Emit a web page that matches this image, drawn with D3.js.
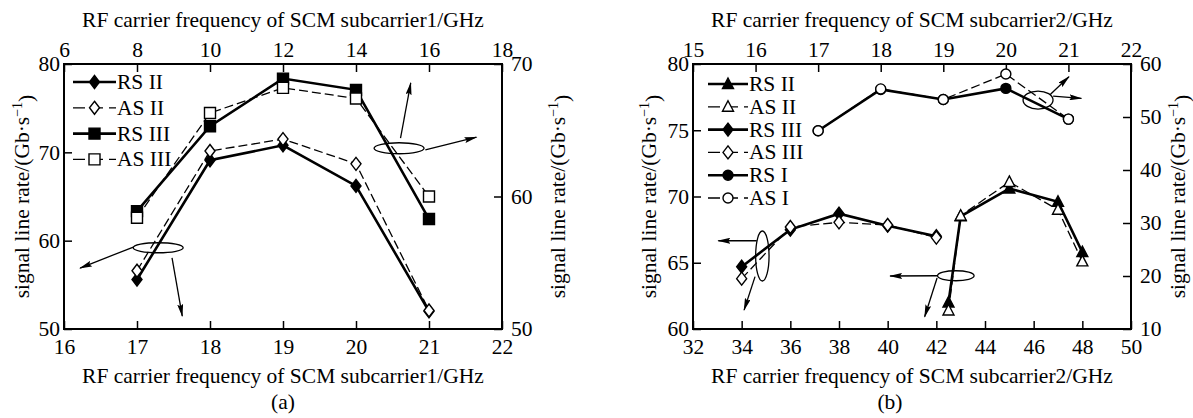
<!DOCTYPE html>
<html>
<head>
<meta charset="utf-8">
<script src="https://cdn.jsdelivr.net/npm/d3@7"></script>
<style>
	body { margin: 0; background: #fff; }
	svg { display: block; }
</style>
</head>
<body>
<div id="chart"></div>
<script>
// ---- data ----
// panel (a)
const aX1 = [17, 18, 19, 20, 21]        // bottom axis, subcarrier1 RF (GHz)
const aX2 = [8, 10, 12, 14, 16]         // top axis, SCM subcarrier1 (GHz)
const aRS2 = [55.6, 69.1, 70.8, 66.2, 52.0]
const aAS2 = [56.6, 70.15, 71.5, 68.7, 52.1]
const aRS3 = [58.9, 65.3, 68.9, 68.05, 58.3]
const aAS3 = [58.4, 66.3, 68.2, 67.4, 60.0]

// panel (b)
const bX3 = [34, 36, 38, 40, 42]
const bX2 = [42.5, 43, 45, 47, 48]
const bX1 = [17, 18, 19, 20, 21]        // top axis
const bRS2 = [62.0, 68.5, 70.6, 69.6, 65.8]
const bAS2 = [61.4, 68.55, 71.1, 69.0, 65.1]
const bRS3 = [64.7, 67.5, 68.7, 67.8, 67.0]
const bAS3 = [63.8, 67.7, 68.05, 67.85, 66.9]
const bRS1 = [47.4, 55.2, 53.3, 55.4, 49.6]
const bAS1 = [47.4, 55.3, 53.3, 58.1, 49.6]

// tick labels
const aBottomTicks = [16, 17, 18, 19, 20, 21, 22]
const aTopTicks = [6, 8, 10, 12, 14, 16, 18]
const aLeftTicks = [50, 60, 70, 80]
const aRightTicks = [50, 60, 70]
const bBottomTicks = [32, 34, 36, 38, 40, 42, 44, 46, 48, 50]
const bTopTicks = [15, 16, 17, 18, 19, 20, 21, 22]
const bLeftTicks = [60, 65, 70, 75, 80]
const bRightTicks = [10, 20, 30, 40, 50, 60]

const FONT = "'Liberation Serif', 'Times New Roman', serif"
const FS = 21.5

var svg = d3.select("#chart")
	.append("svg")
	.attr("width", 1193)
	.attr("height", 418)
	.style("background", "#fff")

svg.append("defs").append("marker")
	.attr("id", "arrow")
	.attr("viewBox", "0 0 13 6")
	.attr("refX", 12)
	.attr("refY", 3)
	.attr("markerWidth", 13)
	.attr("markerHeight", 6)
	.attr("markerUnits", "userSpaceOnUse")
	.attr("orient", "auto")
	.append("path")
	.attr("d", "M0,0L13,3L0,6L2,3Z")
	.style("fill", "black")

function shape(type) {
	if (type == "diamond") return "M0,-6.5L5,0L0,6.5L-5,0Z"
	if (type == "square") return "M-5.5,-5.5h11v11h-11Z"
	if (type == "triangle") return "M0,-6L5.5,4.5L-5.5,4.5Z"
	return "M5,0A5,5 0 1,1 -5,0A5,5 0 1,1 5,0Z"
}

function drawPanel(p) {
	const g = svg.append("g")
	const xs = {
		bottom: d3.scaleLinear().domain(p.xBottom).range([p.left, p.right]),
		top: d3.scaleLinear().domain(p.xTop).range([p.left, p.right])
	}
	const ys = {
		left: d3.scaleLinear().domain(p.yLeft).range([p.bottom, p.top]),
		right: d3.scaleLinear().domain(p.yRight).range([p.bottom, p.top])
	}
	const fmt = d3.format("d")

	function styleAxis(sel) {
		sel.select(".domain").remove()
		sel.selectAll("line").style("stroke", "black").style("stroke-width", 1.5)
		sel.selectAll("text")
			.style("font-family", FONT)
			.style("font-size", FS + "px")
			.style("fill", "black")
	}

	g.append("g").attr("transform", `translate(0,${p.bottom})`)
		.call(d3.axisBottom(xs.bottom).tickValues(p.bottomTicks).tickFormat(fmt).tickSizeInner(-8).tickSizeOuter(0).tickPadding(10))
		.call(styleAxis)
	g.append("g").attr("transform", `translate(0,${p.top})`)
		.call(d3.axisTop(xs.top).tickValues(p.topTicks).tickFormat(fmt).tickSizeInner(-8).tickSizeOuter(0).tickPadding(7))
		.call(styleAxis)
	g.append("g").attr("transform", `translate(${p.left},0)`)
		.call(d3.axisLeft(ys.left).tickValues(p.leftTicks).tickFormat(fmt).tickSizeInner(-8).tickSizeOuter(0).tickPadding(4))
		.call(styleAxis)
	g.append("g").attr("transform", `translate(${p.right},0)`)
		.call(d3.axisRight(ys.right).tickValues(p.rightTicks).tickFormat(fmt).tickSizeInner(-8).tickSizeOuter(0).tickPadding(9))
		.call(styleAxis)

	g.append("rect")
		.attr("x", p.left).attr("y", p.top)
		.attr("width", p.right - p.left).attr("height", p.bottom - p.top)
		.style("fill", "none").style("stroke", "black").style("stroke-width", 2)

	// titles
	const cx = (p.left + p.right) / 2
	const cy = (p.top + p.bottom) / 2
	g.append("text").attr("x", cx).attr("y", 27).attr("text-anchor", "middle")
		.style("font-family", FONT).style("font-size", FS + "px").text(p.topTitle)
	g.append("text").attr("x", cx).attr("y", 383).attr("text-anchor", "middle")
		.style("font-family", FONT).style("font-size", FS + "px").text(p.bottomTitle)
	g.append("text").attr("x", cx + p.tagShift).attr("y", 409).attr("text-anchor", "middle")
		.style("font-family", FONT).style("font-size", FS + "px").text(p.tag)

	p.yTitleX.forEach(function(tx) {
		const t = g.append("text")
			.attr("transform", `translate(${tx},${cy}) rotate(-90)`)
			.attr("text-anchor", "middle")
			.attr("dy", "0.33em")
			.style("font-family", FONT).style("font-size", FS + "px")
		t.append("tspan").text("signal line rate/(Gb\u00B7s")
		t.append("tspan").attr("dy", "-0.5em").style("font-size", "14px").text("\u22121")
		t.append("tspan").attr("dy", "0.5em").text(")")
	})

	// series
	p.series.forEach(function(s) {
		const xsc = xs[s.xAxis], ysc = ys[s.yAxis]
		const pts = s.x.map((v, i) => ({ x: v, y: s.y[i] }))
		g.append("path")
			.datum(pts)
			.attr("d", d3.line().x(d => xsc(d.x)).y(d => ysc(d.y)))
			.style("fill", "none")
			.style("stroke", "black")
			.style("stroke-width", s.dashed ? 1.3 : 2.6)
			.style("stroke-dasharray", s.dashed ? "9,4" : null)
		g.selectAll(null)
			.data(pts)
			.join("path")
			.attr("transform", d => `translate(${xsc(d.x)},${ysc(d.y)})`)
			.attr("d", shape(s.marker))
			.style("fill", s.dashed ? "white" : "black")
			.style("stroke", "black")
			.style("stroke-width", 1.4)
	})

	// legend
	p.series.forEach(function(s, i) {
		const ly = p.legY + i * p.legStep
		g.append("line")
			.attr("x1", p.legX0).attr("x2", p.legX1).attr("y1", ly).attr("y2", ly)
			.style("stroke", "black")
			.style("stroke-width", s.dashed ? 1.3 : 2.6)
			.style("stroke-dasharray", s.dashed ? "12,6" : null)
		g.append("path")
			.attr("transform", `translate(${(p.legX0 + p.legX1) / 2},${ly})`)
			.attr("d", shape(s.marker))
			.style("fill", s.dashed ? "white" : "black")
			.style("stroke", "black")
			.style("stroke-width", 1.4)
		g.append("text")
			.attr("x", p.legX1 + 1).attr("y", ly + 7)
			.style("font-family", FONT).style("font-size", FS + "px")
			.text(s.name)
	})

	// ellipses and arrows (in bottom/left data units)
	p.notes.forEach(function(n) {
		g.append("ellipse")
			.attr("cx", xs.bottom(n.cx)).attr("cy", ys.left(n.cy))
			.attr("rx", n.rx).attr("ry", n.ry)
			.style("fill", "none").style("stroke", "black").style("stroke-width", 1.3)
		n.arrows.forEach(function(a) {
			g.append("line")
				.attr("x1", xs.bottom(a[0])).attr("y1", ys.left(a[1]))
				.attr("x2", xs.bottom(a[2])).attr("y2", ys.left(a[3]))
				.style("stroke", "black").style("stroke-width", 1.3)
				.attr("marker-end", "url(#arrow)")
		})
	})
}

drawPanel({
	left: 64, right: 502, top: 64, bottom: 329,
	xBottom: [16, 22], xTop: [6, 18], yLeft: [50, 80], yRight: [50, 70],
	bottomTicks: aBottomTicks, topTicks: aTopTicks, leftTicks: aLeftTicks, rightTicks: aRightTicks,
	topTitle: "RF carrier frequency of SCM subcarrier1/GHz",
	bottomTitle: "RF carrier frequency of SCM subcarrier1/GHz",
	tag: "(a)", tagShift: 0,
	yTitleX: [22, 558],
	legX0: 73, legX1: 116, legY: 82, legStep: 25.8,
	series: [
		{ name: "RS II", x: aX1, y: aRS2, xAxis: "bottom", yAxis: "left", marker: "diamond", dashed: false },
		{ name: "AS II", x: aX1, y: aAS2, xAxis: "bottom", yAxis: "left", marker: "diamond", dashed: true },
		{ name: "RS III", x: aX2, y: aRS3, xAxis: "top", yAxis: "right", marker: "square", dashed: false },
		{ name: "AS III", x: aX2, y: aAS3, xAxis: "top", yAxis: "right", marker: "square", dashed: true }
	],
	notes: [
		{ cx: 17.29, cy: 59.2, rx: 25, ry: 5,
			arrows: [[16.95, 59.28, 16.22, 56.9], [17.48, 58.04, 17.62, 51.47]] },
		{ cx: 20.59, cy: 70.46, rx: 25, ry: 5.5,
			arrows: [[20.61, 71.62, 20.75, 77.85], [20.95, 70.27, 21.65, 71.71]] }
	]
})

drawPanel({
	left: 693, right: 1131, top: 64, bottom: 329,
	xBottom: [32, 50], xTop: [15, 22], yLeft: [60, 80], yRight: [10, 60],
	bottomTicks: bBottomTicks, topTicks: bTopTicks, leftTicks: bLeftTicks, rightTicks: bRightTicks,
	topTitle: "RF carrier frequency of SCM subcarrier2/GHz",
	bottomTitle: "RF carrier frequency of SCM subcarrier2/GHz",
	tag: "(b)", tagShift: -22,
	yTitleX: [649, 1178],
	legX0: 708, legX1: 748, legY: 84, legStep: 22.8,
	series: [
		{ name: "RS II", x: bX2, y: bRS2, xAxis: "bottom", yAxis: "left", marker: "triangle", dashed: false },
		{ name: "AS II", x: bX2, y: bAS2, xAxis: "bottom", yAxis: "left", marker: "triangle", dashed: true },
		{ name: "RS III", x: bX3, y: bRS3, xAxis: "bottom", yAxis: "left", marker: "diamond", dashed: false },
		{ name: "AS III", x: bX3, y: bAS3, xAxis: "bottom", yAxis: "left", marker: "diamond", dashed: true },
		{ name: "RS I", x: bX1, y: bRS1, xAxis: "top", yAxis: "right", marker: "circle", dashed: false },
		{ name: "AS I", x: bX1, y: bAS1, xAxis: "top", yAxis: "right", marker: "circle", dashed: true }
	],
	notes: [
		{ cx: 34.85, cy: 65.51, rx: 6.7, ry: 25,
			arrows: [[34.62, 66.66, 33.04, 66.66], [34.55, 63.95, 34.1, 61.43]] },
		{ cx: 42.8, cy: 64.02, rx: 18.3, ry: 5,
			arrows: [[42.04, 64.02, 40.1, 64.0], [42.03, 63.85, 41.52, 60.93]] },
		{ cx: 46.18, cy: 77.28, rx: 15, ry: 9,
			arrows: [[46.66, 77.66, 47.45, 79.04], [46.8, 77.58, 47.96, 77.41]] }
	]
})
</script>
</body>
</html>
